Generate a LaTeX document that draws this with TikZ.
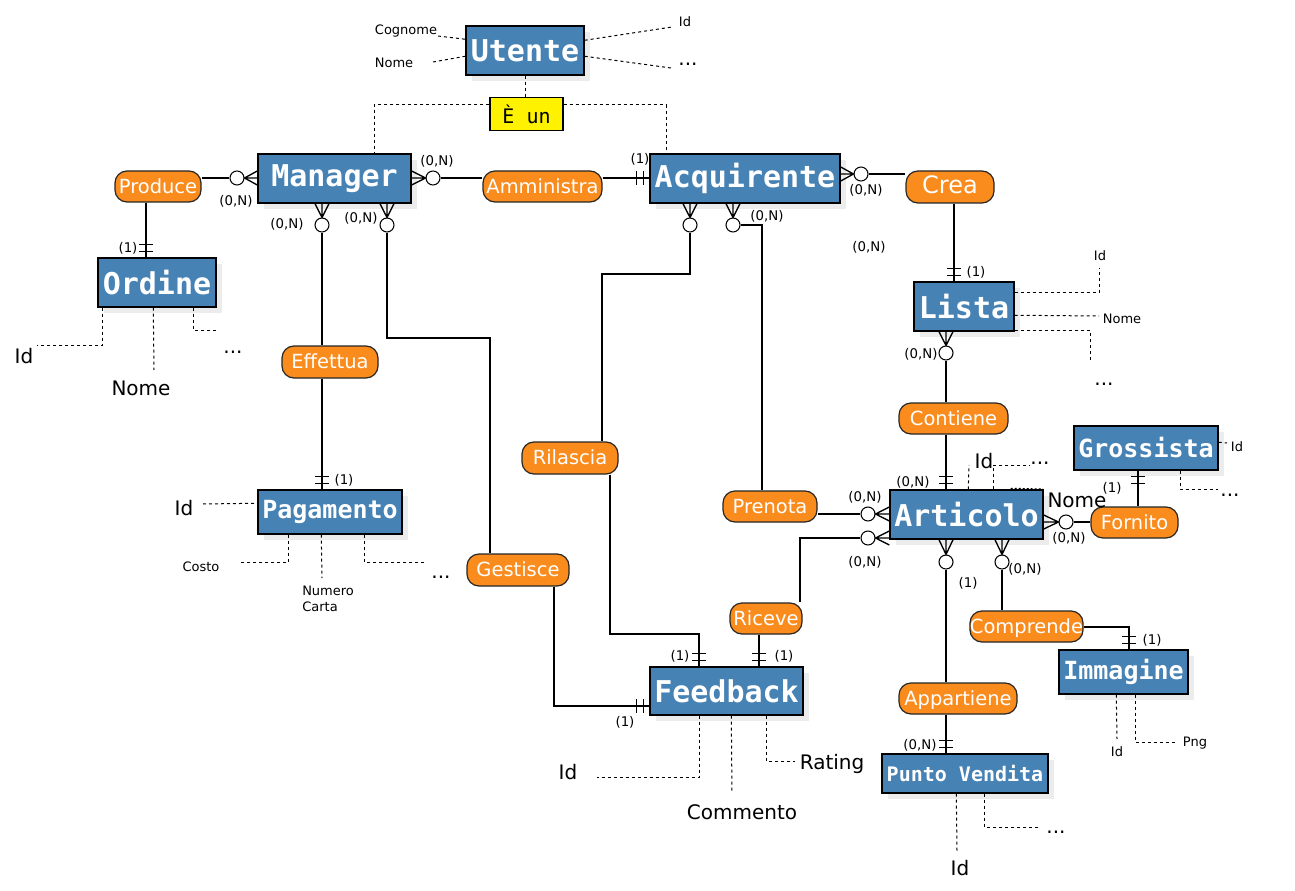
\documentclass[tikz,border=0pt]{standalone}
\usepackage{fontspec}
\setmainfont{DejaVu Sans}
\newfontfamily\entfont{DejaVu Sans Mono}
\usetikzlibrary{calc,shadows}
\definecolor{entblue}{RGB}{70,130,180}
\definecolor{relorange}{RGB}{250,140,30}
\definecolor{shadegray}{RGB}{236,236,236}
\newcommand\crowD[2]{\draw[conn] ($(#1.north|-#2)+(-7,0)$) -- (#1.north) -- ($(#1.north|-#2)+(7,0)$) (#1.north|-#2) -- (#1.north);}
\newcommand\crowL[2]{\draw[conn] ($(#1.east-|#2)+(0,-7)$) -- (#1.east) -- ($(#1.east-|#2)+(0,7)$) (#1.east-|#2) -- (#1.east);}
\newcommand\crowR[2]{\draw[conn] ($(#1.west-|#2)+(0,-7)$) -- (#1.west) -- ($(#1.west-|#2)+(0,7)$) (#1.west-|#2) -- (#1.west);}
\newcommand\barsT[2]{\draw[conn] ($(#1|-#2)+(-7,-6)$) -- ++(14,0) ($(#1|-#2)+(-7,-13)$) -- ++(14,0);}
\newcommand\barsB[2]{\draw[conn] ($(#1|-#2)+(-7,6)$) -- ++(14,0) ($(#1|-#2)+(-7,13)$) -- ++(14,0);}
\newcommand\barsL[2]{\draw[conn] ($(#2|-#1)+(-6,-7)$) -- ++(0,14) ($(#2|-#1)+(-13,-7)$) -- ++(0,14);}
\begin{document}
\begin{tikzpicture}[x=0.75pt,y=-0.75pt,
  sz/.style 2 args={minimum width=#1*0.75pt, minimum height=#2*0.75pt},
  ent/.style={draw=black, line width=1.1pt, fill=entblue, text=white, inner sep=0pt,
    font=\entfont\bfseries\fontsize{22.5}{26}\selectfont,
    general shadow={fill=shadegray, shadow xshift=4.5pt, shadow yshift=-4.5pt}},
  entm/.style={font=\entfont\bfseries\fontsize{18.75}{22}\selectfont},
  ents/.style={font=\entfont\bfseries\fontsize{15}{18}\selectfont},
  rel/.style={draw=black!85, line width=0.9pt, fill=relorange, rounded corners=9pt, text=white,
    inner sep=0pt, text height=1.0em, text depth=0pt, font=\fontsize{14.6}{17}\selectfont},
  isa/.style={draw=black, line width=0.9pt, fill=yellow, inner sep=0pt, font=\entfont\fontsize{15}{18}\selectfont},
  oc/.style={circle, draw=black, line width=0.8pt, fill=white, minimum size=10.5pt, inner sep=0pt},
  conn/.style={draw=black, line width=1pt},
  dsh/.style={draw=black, line width=0.75pt, dash pattern=on 2.25pt off 2.25pt},
  card/.style={inner sep=0pt, font=\fontsize{10}{12}\selectfont},
  asm/.style={inner sep=0pt, font=\fontsize{9.75}{11.5}\selectfont},
  abig/.style={inner sep=0pt, font=\fontsize{15}{17}\selectfont}]
\fill[white] (0,0) rectangle (1295,891);
\useasboundingbox (0,0) rectangle (1295,891);

% entities
\node[ent,sz={118}{49}] (utente) at (525,50.5) {Utente};
\node[isa,sz={73}{33}] (eun) at (526.5,114) {È un};
\node[ent,sz={153}{49}] (manager) at (334.5,178.5) {Manager};
\node[ent,sz={190}{49}] (acq) at (745,178.5) {Acquirente};
\node[ent,sz={118}{49}] (ordine) at (157,282.5) {Ordine};
\node[ent,sz={100}{49}] (lista) at (964,306.5) {Lista};
\node[ent,entm,sz={144}{44}] (grossista) at (1146,448) {Grossista};
\node[ent,sz={153}{49}] (articolo) at (966.5,514.5) {Articolo};
\node[ent,entm,sz={144}{44}] (pagamento) at (330,512) {Pagamento};
\node[ent,sz={153}{48}] (feedback) at (726.5,691) {Feedback};
\node[ent,entm,sz={129}{44}] (immagine) at (1123.5,672) {Immagine};
\node[ent,ents,sz={166}{39}] (pv) at (965,773.5) {Punto Vendita};

% relationships
\node[rel,sz={86}{31}] (produce) at (158,186.5) {Produce};
\node[rel,sz={119}{31}] (amm) at (542.5,186.5) {Amministra};
\node[rel,sz={88}{32},font=\fontsize{18}{20}\selectfont] (crea) at (950,187) {Crea};
\node[rel,sz={96}{32}] (effettua) at (330,362) {Effettua};
\node[rel,sz={109}{31}] (contiene) at (953.5,418.5) {Contiene};
\node[rel,sz={96}{32}] (rilascia) at (570,458) {Rilascia};
\node[rel,sz={94}{31}] (prenota) at (770,506.5) {Prenota};
\node[rel,sz={87}{31}] (fornito) at (1134.5,522.5) {Fornito};
\node[rel,sz={102}{32}] (gestisce) at (518,570) {Gestisce};
\node[rel,sz={72}{31}] (riceve) at (766,618.5) {Riceve};
\node[rel,sz={111}{31}] (comprende) at (1026.5,626.5) {Comprende};
\node[rel,sz={118}{31}] (appartiene) at (958,698.5) {Appartiene};

% optional circles
\node[oc] (c1) at (237,178) {};
\node[oc] (c2) at (433,178) {};
\node[oc] (c3) at (322,225) {};
\node[oc] (c4) at (387,225) {};
\node[oc] (c5) at (861,174) {};
\node[oc] (c6) at (690,225) {};
\node[oc] (c7) at (733,225) {};
\node[oc] (c8) at (868,514) {};
\node[oc] (c9) at (868,538) {};
\node[oc] (c10) at (946,353) {};
\node[oc] (c11) at (1066,522) {};
\node[oc] (c12) at (946,562) {};
\node[oc] (c13) at (1002,562) {};

% crow's feet
\crowL{c1}{manager.west}
\crowR{c2}{manager.east}
\crowD{c3}{manager.south}
\crowD{c4}{manager.south}
\crowR{c5}{acq.east}
\crowD{c6}{acq.south}
\crowD{c7}{acq.south}
\crowL{c8}{articolo.west}
\crowL{c9}{articolo.west}
\crowD{c10}{lista.south}
\crowR{c11}{articolo.east}
\crowD{c12}{articolo.south}
\crowD{c13}{articolo.south}

% helper coordinates
\coordinate (vP) at (146,0);
\coordinate (g1) at (490,338);
\coordinate (g2) at (554,706);
\coordinate (vC) at (954,0);
\coordinate (r1) at (602,274);
\coordinate (r2) at (610,634);
\coordinate (r3) at (699,634);
\coordinate (p1) at (762,225);
\coordinate (q1) at (800,538);
\coordinate (vR) at (759,0);
\coordinate (vF) at (1138,0);
\coordinate (m1) at (1129,627);
\coordinate (e1) at (374,105);
\coordinate (e2) at (666,105);

% connectors
\draw[conn] (c1.west) -- (c1.west -| produce.east);
\draw[conn] (vP|-produce.south) -- (vP|-ordine.north);
\barsT{vP}{ordine.north}
\draw[conn] (c2.east) -- (c2.east -| amm.west);
\draw[conn] (c2 -| amm.east) -- (c2 -| acq.west);
\barsL{c2}{acq.west}
\draw[conn] (c3.south) -- (c3|-effettua.north);
\draw[conn] (c3|-effettua.south) -- (c3|-pagamento.north);
\barsT{c3}{pagamento.north}
\draw[conn] (c4.south) |- (g1) -- (g1|-gestisce.north);
\draw[conn] (g2|-gestisce.south) -- (g2) -- (g2-|feedback.west);
\barsL{g2}{feedback.west}
\draw[conn] (c5.east) -- (c5.east -| crea.west);
\draw[conn] (vC|-crea.south) -- (vC|-lista.north);
\barsT{vC}{lista.north}
\draw[conn] (c6.south) |- (r1) -- (r1|-rilascia.north);
\draw[conn] (r2|-rilascia.south) -- (r2) -- (r3) -- (r3|-feedback.north);
\barsT{r3}{feedback.north}
\draw[conn] (c7.east) -- (p1) -- (p1|-prenota.north);
\draw[conn] (c8 -| prenota.east) -- (c8.west);
\draw[conn] (c9.west) -- (q1) -- (q1|-riceve.north);
\draw[conn] (vR|-riceve.south) -- (vR|-feedback.north);
\barsT{vR}{feedback.north}
\draw[conn] (c10.south) -- (c10|-contiene.north);
\draw[conn] (c10|-contiene.south) -- (c10|-articolo.north);
\barsT{c10}{articolo.north}
\draw[conn] (c11.east) -- (c11.east -| fornito.west);
\draw[conn] (vF|-fornito.north) -- (vF|-grossista.south);
\barsB{vF}{grossista.south}
\draw[conn] (c12.south) -- (c12|-appartiene.north);
\draw[conn] (c12|-appartiene.south) -- (c12|-pv.north);
\barsT{c12}{pv.north}
\draw[conn] (c13.south) -- (c13|-comprende.north);
\draw[conn] (m1-|comprende.east) -- (m1) -- (m1|-immagine.north);
\barsT{m1}{immagine.north}

% is-a
\draw[dsh] (utente.south) -- (utente.south|-eun.north);
\draw[dsh] (e1-|eun.west) -- (e1) -- (e1|-manager.north);
\draw[dsh] (e2-|eun.east) -- (e2) -- (e2|-acq.north);

% cardinalities
\node[card] at (236,201) {(0,N)};
\node[card] at (437,161) {(0,N)};
\node[card] at (640,159) {(1)};
\node[card] at (287,224) {(0,N)};
\node[card] at (361,218) {(0,N)};
\node[card] at (128,248) {(1)};
\node[card] at (344,480) {(1)};
\node[card] at (866,190) {(0,N)};
\node[card] at (767,216) {(0,N)};
\node[card] at (869,247) {(0,N)};
\node[card] at (976,272) {(1)};
\node[card] at (921,354) {(0,N)};
\node[card] at (913,482) {(0,N)};
\node[card] at (865,497) {(0,N)};
\node[card] at (865,562) {(0,N)};
\node[card] at (1069,538) {(0,N)};
\node[card] at (1112,488) {(1)};
\node[card] at (968,583) {(1)};
\node[card] at (1025,569) {(0,N)};
\node[card] at (920,745) {(0,N)};
\node[card] at (1152,640) {(1)};
\node[card] at (680,656) {(1)};
\node[card] at (784,656) {(1)};
\node[card] at (625,722) {(1)};

% attribute end points
\coordinate (uc) at (438,36);
\coordinate (un) at (433,62);
\coordinate (ui) at (672,27);
\coordinate (ud) at (671,68);
\coordinate (oa) at (37,345);
\coordinate (ob) at (154,370);
\coordinate (od) at (216,330);
\coordinate (pa) at (203,504);
\coordinate (pb) at (238,562);
\coordinate (pc) at (322,578);
\coordinate (pd) at (424,562);
\coordinate (fa) at (597,777);
\coordinate (fb) at (732,793);
\coordinate (fc) at (795,761);
\coordinate (va) at (957,851);
\coordinate (vb) at (1040,827);
\coordinate (ia) at (1117,739);
\coordinate (ib) at (1175,742);
\coordinate (ga) at (1227,443);
\coordinate (gb) at (1218,489);
\coordinate (la) at (1099,268);
\coordinate (lb) at (1099,316);
\coordinate (lc) at (1090,362);
\coordinate (aa) at (969,465);
\coordinate (ab) at (1030,465);
\coordinate (ac) at (1043,489);

% attribute lines
\draw[dsh] (uc) -- ($(utente.north west)+(0,14)$);
\draw[dsh] (un) -- ($(utente.north west)+(0,31)$);
\draw[dsh] ($(utente.north east)+(0,15)$) -- (ui);
\draw[dsh] ($(utente.north east)+(0,31)$) -- (ud);
\draw[dsh] ($(ordine.south west)+(5,0)$) |- (oa);
\draw[dsh] ($(ordine.south west)+(56,0)$) -- (ob);
\draw[dsh] ($(ordine.south west)+(96,0)$) |- (od);
\draw[dsh] (pa) -- ($(pagamento.north west)+(0,14)$);
\draw[dsh] ($(pagamento.south west)+(31,0)$) |- (pb);
\draw[dsh] ($(pagamento.south west)+(64,0)$) -- (pc);
\draw[dsh] ($(pagamento.south west)+(107,0)$) |- (pd);
\draw[dsh] ($(feedback.south west)+(50,0)$) |- (fa);
\draw[dsh] ($(feedback.south west)+(82,0)$) -- (fb);
\draw[dsh] ($(feedback.south west)+(117,0)$) |- (fc);
\draw[dsh] ($(pv.south west)+(75,0)$) -- (va);
\draw[dsh] ($(pv.south west)+(103,0)$) |- (vb);
\draw[dsh] ($(immagine.south west)+(58,0)$) -- (ia);
\draw[dsh] ($(immagine.south west)+(77,0)$) |- (ib);
\draw[dsh] ($(grossista.north east)+(0,17)$) -- (ga);
\draw[dsh] ($(grossista.south west)+(107,0)$) |- (gb);
\draw[dsh] ($(lista.north east)+(0,11)$) -| (la);
\draw[dsh] ($(lista.north east)+(0,34)$) -- (lb);
\draw[dsh] ($(lista.south east)+(0,-1)$) -| (lc);
\draw[dsh] ($(articolo.north west)+(79,0)$) -- (aa);
\draw[dsh] ($(articolo.north west)+(104,0)$) |- (ab);
\draw[dsh, dash pattern=on 1.5pt off 1.5pt] ($(articolo.north east)+(-33,-1)$) -- (ac);

% attribute labels
\node[asm] (tcognome) at (406,31) {Cognome};
\node[asm] (tnomeu) at (394,63) {Nome};
\node[asm] (tidu) at (685,22) {Id};
\node[abig] (tdotu) at (688,64) {...};
\node[abig] (tido) at (24,356) {Id};
\node[abig] (tnomeo) at (141,388) {Nome};
\node[abig] (tdoto) at (233,352) {...};
\node[abig] (tidp) at (184,508) {Id};
\node[asm] (tcosto) at (201,567) {Costo};
\node[asm, anchor=west, align=left] (tnum) at (302,599) {Numero\\Carta};
\node[abig] (tdotp) at (441,577) {...};
\node[abig] (tidf) at (568,772) {Id};
\node[abig] (tcomm) at (742,812) {Commento};
\node[abig] (trating) at (832,764) {Rating};
\node[abig] (tidv) at (960,868) {Id};
\node[abig] (tdotv) at (1056,832) {...};
\node[asm] (tidi) at (1117,752) {Id};
\node[asm] (tpng) at (1195,743) {Png};
\node[asm] (tidg) at (1237,447) {Id};
\node[abig] (tdotg) at (1230,495) {...};
\node[asm] (tidl) at (1100,256) {Id};
\node[asm] (tnomel) at (1122,319) {Nome};
\node[abig] (tdotl) at (1104,384) {...};
\node[abig] (tida) at (984,461) {Id};
\node[abig] (tdota) at (1040,463) {...};
\node[abig] (tnomea) at (1077,500) {Nome};
\end{tikzpicture}
\end{document}
